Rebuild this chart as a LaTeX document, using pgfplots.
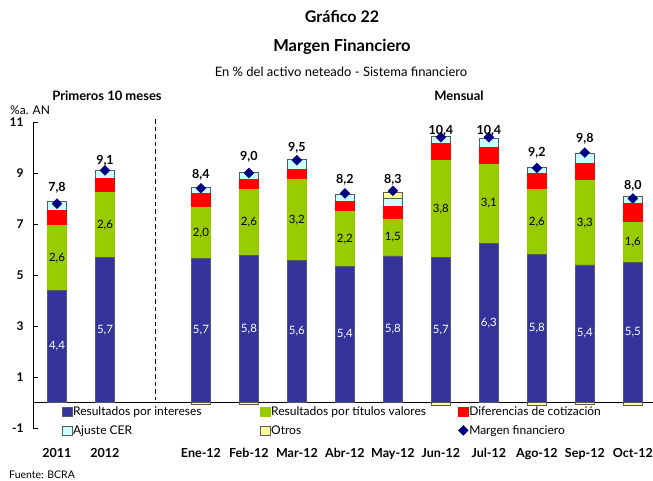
\documentclass[border=0pt]{standalone}
\usepackage{pgfplots}
\pgfplotsset{compat=1.18}
\usepackage{pgfplotstable}
\usepackage{fontspec}
\setmainfont{Lato}
\newcommand\fs[1]{\fontsize{#1}{#1}\selectfont}
\definecolor{cBlue}{HTML}{333399}
\definecolor{cGreen}{HTML}{99CC00}
\definecolor{cRed}{HTML}{FF0000}
\definecolor{cCyan}{HTML}{CCFFFF}
\definecolor{cYellow}{HTML}{FFFF99}
\definecolor{cNavy}{HTML}{000080}
\definecolor{cEdge}{HTML}{5A5A5A}
\pgfplotsset{
  sqleg/.style={legend image code/.code={\draw[##1,line width=0.6pt] (0pt,-4.5pt) rectangle (9.5pt,4.5pt);}},
  dmleg/.style={legend image code/.code={\draw[##1] plot coordinates {(4.75pt,0pt)};}}
}

\pgfplotstableread{
x  b    g    r    c    op   tot  ty    bl  gl  tl
0  4.40 2.55 0.58 0.35 0    7.8  8.43  4,4 2,6 7,8
1  5.70 2.55 0.53 0.32 0    9.1  9.49  5,7 2,6 9,1
3  5.65 2.00 0.55 0.23 0    8.4  8.93  5,7 2,0 8,4
4  5.76 2.60 0.40 0.27 0    9.0  9.62  5,8 2,6 9,0
5  5.57 3.20 0.37 0.38 0    9.5  9.99  5,6 3,2 9,5
6  5.35 2.15 0.38 0.28 0    8.2  8.73  5,4 2,2 8,2
7  5.75 1.45 0.50 0.30 0.25 8.3  8.73  5,8 1,5 8,3
8  5.70 3.80 0.67 0.27 0    10.4 10.67 5,7 3,8 10,4
9  6.25 3.10 0.65 0.35 0    10.4 10.67 6,3 3,1 10,4
10 5.80 2.55 0.63 0.24 0    9.2  9.78  5,8 2,6 9,2
11 5.40 3.30 0.67 0.39 0    9.8  10.34 5,4 3,3 9,8
12 5.50 1.55 0.75 0.28 0    8.0  8.51  5,5 1,6 8,0
}\data

\pgfplotstableread{
x  on
3  -0.08
4  -0.08
8  -0.12
10 -0.10
11 -0.08
12 -0.12
}\otrosneg

\begin{document}
\begin{tikzpicture}
\begin{axis}[
  name=main,
  scale only axis, width=620pt, height=306pt,
  xmin=-0.5, xmax=12.42, ymin=-1, ymax=11,
  ybar stacked, bar width=19.5pt,
  axis y line*=left, axis x line*=bottom,
  x axis line style={draw=none},
  y axis line style={-, black, line width=0.8pt},
  ytick={-1,1,3,5,7,9,11}, yticklabels={-1,1,3,5,7,9,11},
  xtick={0,1,3,4,5,6,7,8,9,10,11,12},
  xticklabels={2011,2012,Ene-12,Feb-12,Mar-12,Abr-12,May-12,Jun-12,Jul-12,Ago-12,Sep-12,Oct-12},
  x tick style={draw=none},
  y tick style={line width=0.8pt, black},
  tick align=inside, major tick length=5pt,
  extra y ticks={0}, extra y tick labels={},
  extra y tick style={grid=major, major grid style={black, line width=0.8pt}, tick style={draw=none}},
  yticklabel style={font=\fs{12}\bfseries, xshift=-6pt},
  xticklabel style={font=\fs{12.5}\bfseries, yshift=-17pt},
  clip=false,
  legend columns=3,
  legend cell align=left,
  legend style={at={(0.0468,0.072)}, anchor=north west, draw=none, fill=none,
    font=\fs{12}, inner sep=0pt, outer sep=0pt,
    /tikz/column sep=0pt, /tikz/row sep=6pt,
    nodes={inner sep=1pt}},
]
\addplot[fill=cBlue, draw=cEdge, line width=0.6pt, sqleg] table[x=x, y=b] {\data};
\addlegendentry{\makebox[186pt][l]{Resultados por intereses}}
\addplot[fill=cGreen, draw=cGreen, line width=0.6pt, sqleg] table[x=x, y=g] {\data};
\addlegendentry{\makebox[186pt][l]{Resultados por títulos valores}}
\addplot[fill=cRed, draw=cRed, line width=0.6pt, sqleg] table[x=x, y=r] {\data};
\addlegendentry{Diferencias de cotización}
\addplot[fill=cCyan, draw=cEdge, line width=0.6pt, sqleg] table[x=x, y=c] {\data};
\addlegendentry{Ajuste CER}
\addplot[fill=cYellow, draw=cEdge, line width=0.6pt, sqleg] table[x=x, y=op] {\data};
\addlegendentry{Otros}
\addlegendimage{only marks, mark=square*, mark size=3.5pt, mark options={rotate=45, fill=cNavy, draw=cNavy}, dmleg}
\addlegendentry{Margen financiero}
\draw[black, line width=0.8pt, dash pattern=on 4.5pt off 3pt] (axis cs:2.05,11.1) -- (axis cs:2.05,0.1);
\end{axis}

\begin{axis}[
  scale only axis, width=620pt, height=306pt,
  xmin=-0.5, xmax=12.42, ymin=-1, ymax=11,
  hide axis, clip=false,
]
\addplot[ybar, bar width=19.5pt, bar shift=0pt, fill=cYellow, draw=cEdge, line width=0.6pt] table[x=x, y=on] {\otrosneg};
\addplot[only marks, mark=none, nodes near coords, point meta=explicit symbolic,
  nodes near coords style={anchor=center, text=white, font=\fs{11.5}}]
  table[x=x, y expr=\thisrow{b}/2, meta=bl] {\data};
\addplot[only marks, mark=none, nodes near coords, point meta=explicit symbolic,
  nodes near coords style={anchor=center, text=black, font=\fs{11.5}}]
  table[x=x, y expr=\thisrow{b}+\thisrow{g}/2, meta=gl] {\data};
\addplot[only marks, mark=square*, mark size=3.5pt, mark options={rotate=45, fill=cNavy, draw=cNavy}]
  table[x=x, y=tot] {\data};
\addplot[only marks, mark=none, nodes near coords, point meta=explicit symbolic,
  nodes near coords style={anchor=center, text=black, font=\fs{12.5}\bfseries}]
  table[x=x, y=ty, meta=tl] {\data};
\end{axis}

\node[font=\fs{16}\bfseries] at (309pt,411pt) {Gráfico 22};
\node[font=\fs{16.5}\bfseries] at (309pt,381pt) {Margen Financiero};
\node[font=\fs{13}] at (308pt,356pt) {En \% del activo neteado - Sistema financiero};
\node[font=\fs{13}\bfseries] at (74pt,332pt) {Primeros 10 meses};
\node[font=\fs{13}\bfseries] at (426pt,332pt) {Mensual};
\node[font=\fs{12}, anchor=west, inner sep=0pt] at (-23pt,318pt) {\%a. AN};
\node[font=\fs{10.5}, anchor=west, inner sep=0pt] at (-24pt,-47pt) {Fuente: BCRA};

\pgfresetboundingbox
\useasboundingbox (-33pt,-52pt) rectangle (620pt,428pt);
\end{tikzpicture}
\end{document}
